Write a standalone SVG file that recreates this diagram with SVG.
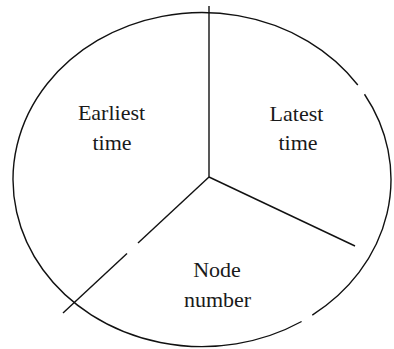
<svg xmlns="http://www.w3.org/2000/svg" width="394" height="349" viewBox="0 0 394 349">
<style>
.s{fill:none;stroke:#111;stroke-width:1.4;stroke-linecap:butt}
.t{font-family:"Liberation Serif","Times New Roman",serif;font-size:22px;fill:#1a1a1a;text-anchor:middle}
</style>
<rect width="394" height="349" fill="#fff"/>
<g id="circle">
<path class="s" d="M 364.5 94.25 A 189 167 0 0 1 312.3 315.1"/>
<path class="s" d="M 301.6 321.5 A 189 167 0 1 1 357.8 85.0"/>
</g>
<g id="connectors">
<line class="s" x1="209" y1="6" x2="209" y2="177"/>
<line class="s" x1="209" y1="177" x2="355" y2="246"/>
<line class="s" x1="209" y1="177" x2="138" y2="243.1"/>
<line class="s" x1="127" y1="253.4" x2="63" y2="313"/>
</g>
<g id="earliest">
<text class="t" x="111.5" y="120">Earliest</text>
<text class="t" x="112" y="150">time</text>
</g>
<g id="latest">
<text class="t" x="296.5" y="121">Latest</text>
<text class="t" x="298" y="150">time</text>
</g>
<g id="node">
<text class="t" x="217" y="277">Node</text>
<text class="t" x="217.5" y="307">number</text>
</g>
</svg>
